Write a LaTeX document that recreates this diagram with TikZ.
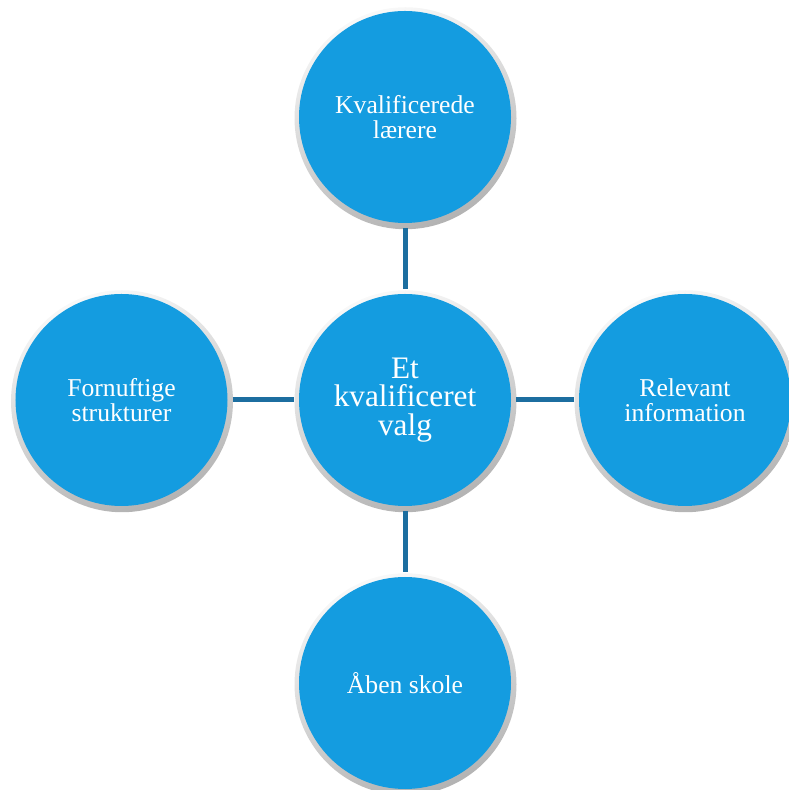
\documentclass[tikz,border=0pt]{standalone}
\usepackage{fontspec}
\setmainfont{Liberation Serif}
\usetikzlibrary{backgrounds}
\definecolor{bubbleblue}{RGB}{20,156,224}
\definecolor{linkblue}{RGB}{28,110,160}

\begin{document}
\begin{tikzpicture}[
  bubble/.style={circle,fill=bubbleblue,minimum size=4.24cm,inner sep=0pt,outer sep=0.1cm,
    text=white,align=center,font=\fontsize{14.6}{14.4}\selectfont},
  link/.style={linkblue,line width=0.1cm}]
\useasboundingbox (0,0) rectangle (15.76,15.8);

% Circles
\node[bubble,font=\fontsize{17.8}{16.4}\selectfont] (valg) at (8.1,7.8) {Et\\kvalificeret\\valg};
\node[bubble] (laerere) at (8.1,13.46) {Kvalificerede\\lærere};
\node[bubble] (strukturer) at (2.43,7.8) {Fornuftige\\strukturer};
\node[bubble] (info) at (13.7,7.8) {Relevant\\information};
\node[bubble] (skole) at (8.1,2.14) {Åben skole};

% Silver rings behind the circles
\begin{scope}[on background layer]
\foreach \n in {valg,laerere,strukturer,info,skole}
  \shade[top color=gray!5,bottom color=gray!60,shading angle=20] ([shift={(0.01,-0.025)}]\n.center) circle (2.22cm);
\end{scope}

% Connectors
\draw[link] (laerere) -- (valg);
\draw[link] (strukturer) -- (valg);
\draw[link] (info) -- (valg);
\draw[link] (skole) -- (valg);
\end{tikzpicture}
\end{document}
